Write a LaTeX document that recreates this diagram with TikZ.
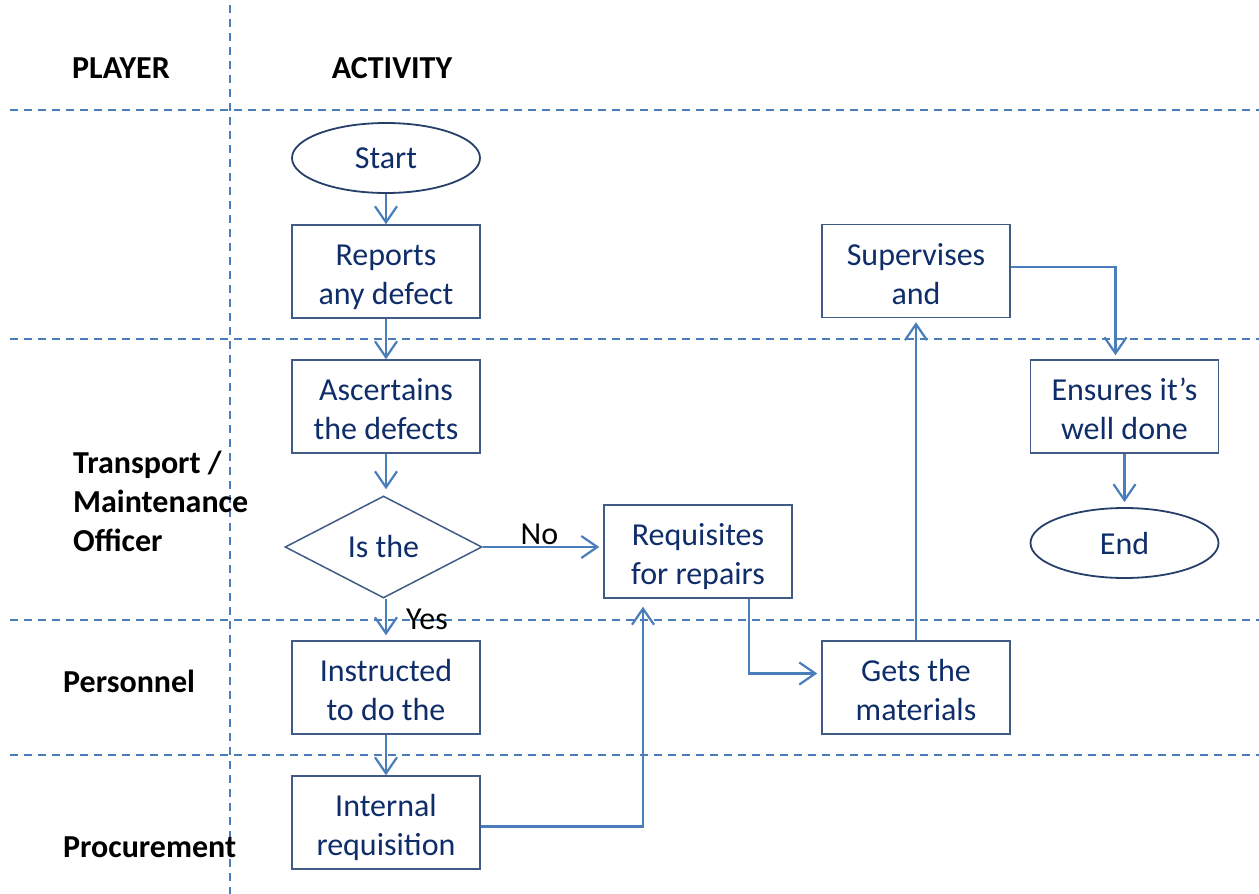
\documentclass[tikz,border=0pt]{standalone}
\usepackage{fontspec}
\setmainfont{Carlito}
\usetikzlibrary{arrows.meta,shapes.geometric}
\definecolor{lineblue}{HTML}{4A7EBB}
\definecolor{boxedge}{HTML}{405C86}
\definecolor{elledge}{HTML}{27406A}
\definecolor{txt}{HTML}{0F2D69}
\begin{document}
\begin{tikzpicture}[x=1pt,y=-1pt,
  lane/.style={draw=lineblue, line width=1.6pt, dash pattern=on 8pt off 6pt},
  boxtext/.style={text=txt, font=\fontsize{32}{39}\selectfont, align=center, inner sep=0pt},
  proc/.style={boxtext, draw=boxedge, line width=1.5pt, minimum width=188pt, minimum height=93pt, text height=66pt, text depth=0pt},
  term/.style={boxtext, ellipse, draw=elledge, line width=1.8pt, minimum width=188pt, minimum height=70pt},
  dec/.style={boxtext, diamond, draw=boxedge, line width=1.5pt, minimum width=197pt, minimum height=102pt},
  head/.style={font=\bfseries\fontsize{32}{39}\selectfont, align=left, inner sep=0pt},
  lbl/.style={font=\fontsize{32}{39}\selectfont, inner sep=0pt},
  conn/.style={draw=lineblue, line width=2.2pt, -{Straight Barb[length=16pt,width=22pt]}}
]
\useasboundingbox (0,0) rectangle (1259,894);
% lanes
\draw[lane] (230,5) -- (230,894);
\foreach \yy in {110,339,620,755} \draw[lane] (10,\yy) -- (1259,\yy);
% headings
\node[head] (player) at (121,68) {PLAYER};
\node[head] (activity) at (392,68) {ACTIVITY};
\node[head, anchor=west] (tmo) at (73,501) {Transport /\\Maintenance\\Officer};
\node[head, anchor=west] (pers) at (63,681) {Personnel};
\node[head, anchor=west] (proc) at (63,847) {Procurement};
% nodes
\node[term] (start) at (386,158) {Start};
\node[proc] (rep) at (386,271.5) {Reports\\any defect};
\node[proc] (asc) at (386,406.5) {Ascertains\\the defects};
\node[dec] (isq) at (383.5,547) {Is the};
\node[proc] (req) at (698,551.5) {Requisites\\for repairs};
\node[proc] (ins) at (386,687.5) {Instructed\\to do the};
\node[proc] (int) at (386,822.5) {Internal\\requisition};
\node[proc] (sup) at (916,271) {Supervises\\and};
\node[proc] (gets) at (916,687.5) {Gets the\\materials};
\node[proc] (ens) at (1124.5,406.5) {Ensures it’s\\well done};
\node[term] (end) at (1124.5,543) {End};
% connectors
\draw[conn] (start) -- (rep);
\draw[conn] (rep) -- (asc);
\draw[conn, shorten >=6pt] (asc) -- (asc |- isq.north);
\draw[conn, shorten >=4pt] (isq.east) -- (isq.east -| req.west) node[lbl, pos=0.47, above=1pt] (no) {No};
\draw[conn, shorten >=5pt] (isq.south -| ins.north) -- (ins.north) node[lbl, pos=0.5, right=19pt] (yes) {Yes};
\draw[conn] (ins) -- (int);
\draw[conn, shorten >=8pt] ([yshift=-4pt]int.east) -| ([xshift=-55pt]req.south);
\draw[conn, shorten >=4pt] ([xshift=51pt]req.south) |- ([yshift=14pt]gets.west);
\draw[conn, shorten >=4pt] (gets) -- (sup);
\draw[conn, shorten >=4pt] ([yshift=4pt]sup.east) -| ([xshift=-9pt]ens.north);
\draw[conn, shorten >=5pt] (ens) -- (end);
\end{tikzpicture}
\end{document}
